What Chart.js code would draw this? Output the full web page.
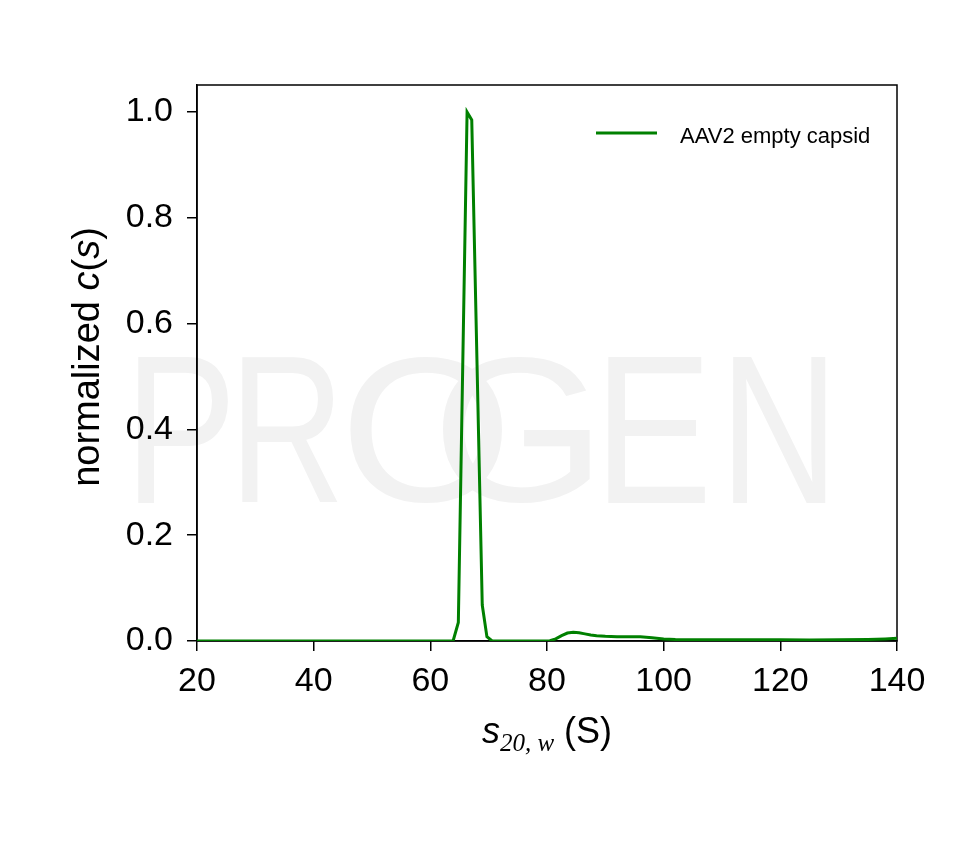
<!DOCTYPE html>
<html>
<head>
<meta charset="utf-8">
<title>AAV2 empty capsid c(s)</title>
<script src="https://cdn.jsdelivr.net/npm/chart.js@4.4.1/dist/chart.umd.min.js"></script>
<style>
  html, body { margin: 0; padding: 0; background: #fff; }
  canvas { display: block; }
</style>
</head>
<body>
<canvas id="csChart" width="960" height="860"></canvas>
<script>
// sedimentation coefficient (S) and normalized c(s)
const sValues = [20, 40, 60, 63.9, 64.8, 66.3, 67.1, 68.9, 69.7, 70.6, 75, 80, 80.5, 81.5, 82.5, 83.5, 84.5, 85.5, 86.5, 87.5, 88.5, 90, 92, 94, 96, 98, 100, 102, 105, 110, 115, 120, 125, 130, 135, 138, 140];
const cValues = [0, 0, 0, 0, 0.035, 1.0, 0.985, 0.068, 0.008, 0, 0, 0, 0.0005, 0.004, 0.01, 0.015, 0.0165, 0.0155, 0.0135, 0.0115, 0.01, 0.0088, 0.0082, 0.008, 0.0078, 0.006, 0.004, 0.003, 0.0025, 0.0025, 0.0025, 0.0025, 0.002, 0.0025, 0.003, 0.004, 0.005];
const seriesLabel = 'AAV2 empty capsid';
const xTicks = [20, 40, 60, 80, 100, 120, 140];
const yTicks = [0, 0.2, 0.4, 0.6, 0.8, 1.0];

const colors = {
  line: '#008000',
  axis: '#000000',
  mark: '#f2f2f2'
};
const sans = '"Liberation Sans", Arial, Helvetica, sans-serif';
const serif = '"Liberation Serif", "Times New Roman", serif';

// draws a list of text runs [{text, font, dy}] centred on cx, baseline y
const drawRuns = (ctx, runs, cx, y) => {
  let total = 0;
  runs.forEach(r => { ctx.font = r.font; r.w = ctx.measureText(r.text).width; total += r.w; });
  let x = cx - total / 2;
  ctx.textAlign = 'left';
  ctx.textBaseline = 'alphabetic';
  runs.forEach(r => {
    ctx.font = r.font;
    ctx.fillText(r.text, x, y + (r.dy || 0));
    x += r.w;
  });
};

// faint PROGEN watermark, each letter fitted into its own box
const watermarkLetters = [
  { ch: 'P', x0: 138, x1: 228 },
  { ch: 'R', x0: 242, x1: 338 },
  { ch: 'O', x0: 350, x1: 502 },
  { ch: 'G', x0: 443, x1: 590 },
  { ch: 'E', x0: 608, x1: 705 },
  { ch: 'N', x0: 733, x1: 826 }
];

const backgroundPlugin = {
  id: 'background',
  beforeDraw(chart) {
    const ctx = chart.ctx;
    ctx.save();
    ctx.fillStyle = '#fff';
    ctx.fillRect(0, 0, chart.width, chart.height);
    ctx.fillStyle = colors.mark;
    ctx.font = `200px ${sans}`;
    ctx.textBaseline = 'alphabetic';
    const top = 357, bottom = 503;
    watermarkLetters.forEach(l => {
      const m = ctx.measureText(l.ch);
      const inkW = m.actualBoundingBoxLeft + m.actualBoundingBoxRight;
      const inkH = m.actualBoundingBoxAscent + m.actualBoundingBoxDescent;
      const sx = (l.x1 - l.x0) / inkW;
      const sy = (bottom - top) / inkH;
      ctx.save();
      ctx.translate(l.x0, bottom);
      ctx.scale(sx, sy);
      ctx.fillText(l.ch, m.actualBoundingBoxLeft, -m.actualBoundingBoxDescent);
      ctx.restore();
    });
    ctx.restore();
  }
};

// full box around the plot area, under the curve
const framePlugin = {
  id: 'frame',
  beforeDatasetsDraw(chart) {
    const { ctx, chartArea: a } = chart;
    ctx.save();
    ctx.strokeStyle = colors.axis;
    ctx.lineWidth = 1.5;
    ctx.strokeRect(a.left, a.top, a.right - a.left, a.bottom - a.top);
    ctx.restore();
  }
};

// axis titles with italic / subscript parts, and the in-plot legend
const labelsPlugin = {
  id: 'labels',
  afterDraw(chart) {
    const { ctx, chartArea: a } = chart;
    ctx.save();
    ctx.fillStyle = '#000';

    drawRuns(ctx, [
      { text: 's', font: `italic 36px ${sans}` },
      { text: '20, w', font: `italic 25px ${serif}`, dy: 8 },
      { text: ' (S)', font: `36px ${sans}` }
    ], (a.left + a.right) / 2, 743);

    ctx.save();
    ctx.translate(99, 357);
    ctx.rotate(-Math.PI / 2);
    drawRuns(ctx, [
      { text: 'normalized ', font: `38px ${sans}` },
      { text: 'c', font: `italic 38px ${sans}` },
      { text: '(', font: `38px ${sans}` },
      { text: 's', font: `italic 38px ${sans}` },
      { text: ')', font: `38px ${sans}` }
    ], 0, 0);
    ctx.restore();

    // legend
    const ds = chart.data.datasets[0];
    ctx.strokeStyle = ds.borderColor;
    ctx.lineWidth = 3;
    ctx.beginPath();
    ctx.moveTo(596, 133);
    ctx.lineTo(657, 133);
    ctx.stroke();
    ctx.font = `22px ${sans}`;
    ctx.textAlign = 'left';
    ctx.textBaseline = 'middle';
    ctx.fillText(ds.label, 680, 137);
    ctx.restore();
  }
};

const tickFont = { family: sans, size: 34 };

new Chart(document.getElementById('csChart').getContext('2d'), {
  type: 'line',
  data: {
    datasets: [{
      label: seriesLabel,
      data: sValues.map((s, i) => ({ x: s, y: cValues[i] })),
      borderColor: colors.line,
      backgroundColor: colors.line,
      borderWidth: 3,
      pointRadius: 0,
      tension: 0,
      fill: false
    }]
  },
  options: {
    responsive: false,
    animation: false,
    devicePixelRatio: 1,
    layout: { padding: { top: 85, right: 63, left: 0, bottom: 0 } },
    plugins: {
      legend: { display: false },
      tooltip: { enabled: false }
    },
    scales: {
      x: {
        type: 'linear',
        min: xTicks[0],
        max: xTicks[xTicks.length - 1],
        afterFit: scale => { scale.height = 219; },
        afterBuildTicks: scale => { scale.ticks = xTicks.map(v => ({ value: v })); },
        ticks: {
          color: '#000',
          font: tickFont,
          padding: 10,
          maxRotation: 0,
          callback: v => String(v)
        },
        grid: {
          drawOnChartArea: false,
          drawTicks: true,
          tickLength: 10,
          color: colors.axis,
          lineWidth: 1.5
        },
        border: { display: true, color: colors.axis, width: 1.5 }
      },
      y: {
        min: 0,
        max: 1.051,
        afterFit: scale => { scale.width = 197; },
        afterBuildTicks: scale => { scale.ticks = yTicks.map(v => ({ value: v })); },
        ticks: {
          color: '#000',
          font: tickFont,
          padding: 14,
          callback: v => v.toFixed(1)
        },
        grid: {
          drawOnChartArea: false,
          drawTicks: true,
          tickLength: 10,
          color: colors.axis,
          lineWidth: 1.5
        },
        border: { display: true, color: colors.axis, width: 1.5 }
      }
    }
  },
  plugins: [backgroundPlugin, framePlugin, labelsPlugin]
});
</script>
</body>
</html>
